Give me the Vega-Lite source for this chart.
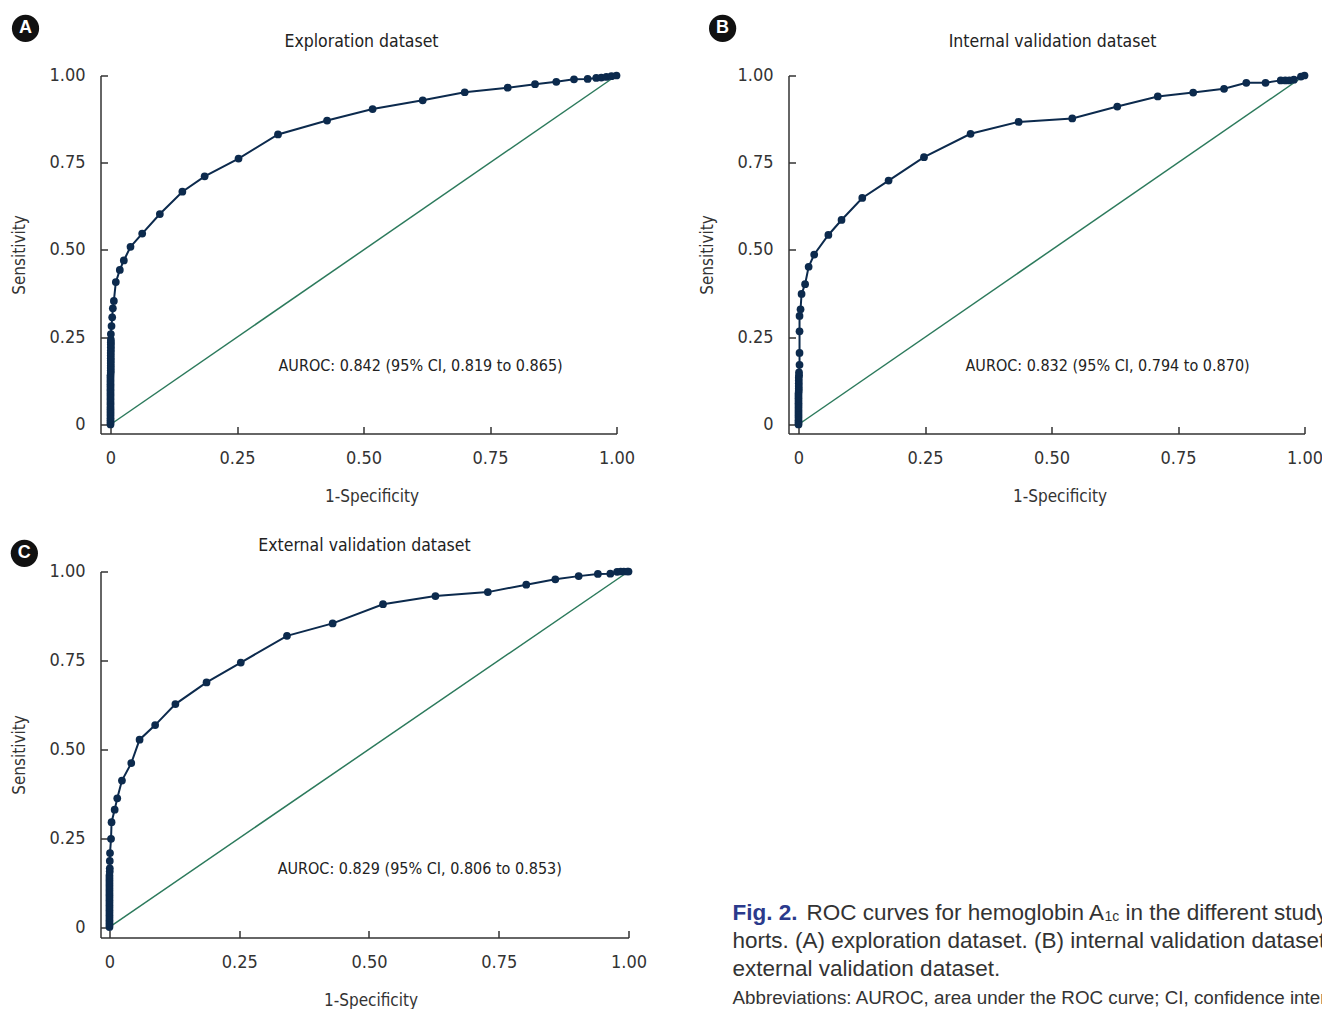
{
  "$schema": "https://vega.github.io/schema/vega-lite/v6.json",
  "padding": {"left": 10.5, "top": 14.5, "right": 0, "bottom": 0},
  "background": "white",
  "config": {
    "view": {"stroke": null},
    "axis": {
      "grid": false,
      "domainColor": "#333333", "domainWidth": 1.5,
      "tickColor": "#333333", "tickWidth": 1.5, "tickSize": -7,
      "labelFont": "DejaVu Sans Condensed, Roboto", "labelFontSize": 18, "labelColor": "#333333",
      "labelFlush": false, "labelOverlap": false, "labelBound": false,
      "titleFont": "DejaVu Sans Condensed, Roboto", "titleFontSize": 17, "titleFontWeight": "normal", "titleColor": "#333333"
    },
    "title": {"font": "DejaVu Sans Condensed, Roboto", "fontSize": 17.5, "fontWeight": "normal", "color": "#222222", "anchor": "middle", "baseline": "bottom", "frame": "group"}
  },
  "datasets": {
    "chance": [{"fpr": 0, "tpr": 0}, {"fpr": 1, "tpr": 1}],
    "notes": [
      {"panel": "A", "fpr": 0.332, "tpr": 0.169, "kind": "auroc", "label": "AUROC: 0.842 (95% CI, 0.819 to 0.865)"},
      {"panel": "A", "fpr": -0.168, "tpr": 1.135, "kind": "badge", "label": "A"},
      {"panel": "B", "fpr": 0.33, "tpr": 0.169, "kind": "auroc", "label": "AUROC: 0.832 (95% CI, 0.794 to 0.870)"},
      {"panel": "B", "fpr": -0.15, "tpr": 1.135, "kind": "badge", "label": "B"},
      {"panel": "C", "fpr": 0.324, "tpr": 0.162, "kind": "auroc", "label": "AUROC: 0.829 (95% CI, 0.806 to 0.853)"},
      {"panel": "C", "fpr": -0.164, "tpr": 1.051, "kind": "badge", "label": "C"}
    ],
    "exploration": [
      {"fpr": 0, "tpr": 0}, {"fpr": 0, "tpr": 0.006}, {"fpr": 0, "tpr": 0.012}, {"fpr": 0, "tpr": 0.018}, {"fpr": 0, "tpr": 0.025},
      {"fpr": 0, "tpr": 0.031}, {"fpr": 0, "tpr": 0.037}, {"fpr": 0, "tpr": 0.044}, {"fpr": 0, "tpr": 0.05}, {"fpr": 0, "tpr": 0.057},
      {"fpr": 0, "tpr": 0.063}, {"fpr": 0, "tpr": 0.07}, {"fpr": 0, "tpr": 0.076}, {"fpr": 0, "tpr": 0.083}, {"fpr": 0, "tpr": 0.089},
      {"fpr": 0, "tpr": 0.096}, {"fpr": 0, "tpr": 0.102}, {"fpr": 0, "tpr": 0.109}, {"fpr": 0, "tpr": 0.115}, {"fpr": 0, "tpr": 0.122},
      {"fpr": 0, "tpr": 0.128}, {"fpr": 0, "tpr": 0.135}, {"fpr": 0, "tpr": 0.141}, {"fpr": 0.0005, "tpr": 0.148}, {"fpr": 0.0005, "tpr": 0.155},
      {"fpr": 0.0005, "tpr": 0.162}, {"fpr": 0.0005, "tpr": 0.169}, {"fpr": 0.0005, "tpr": 0.176}, {"fpr": 0.0005, "tpr": 0.183}, {"fpr": 0.0005, "tpr": 0.19},
      {"fpr": 0.0005, "tpr": 0.198}, {"fpr": 0.0005, "tpr": 0.205}, {"fpr": 0.0007, "tpr": 0.213}, {"fpr": 0.0007, "tpr": 0.221}, {"fpr": 0.0007, "tpr": 0.229},
      {"fpr": 0.0007, "tpr": 0.236}, {"fpr": 0.0007, "tpr": 0.243},
      {"fpr": 0.0007, "tpr": 0.259}, {"fpr": 0.002, "tpr": 0.282}, {"fpr": 0.0033, "tpr": 0.307}, {"fpr": 0.0046, "tpr": 0.333}, {"fpr": 0.0066, "tpr": 0.354},
      {"fpr": 0.0105, "tpr": 0.408}, {"fpr": 0.0184, "tpr": 0.443}, {"fpr": 0.0263, "tpr": 0.47}, {"fpr": 0.0395, "tpr": 0.509}, {"fpr": 0.0626, "tpr": 0.547},
      {"fpr": 0.0975, "tpr": 0.603}, {"fpr": 0.142, "tpr": 0.667}, {"fpr": 0.186, "tpr": 0.711}, {"fpr": 0.253, "tpr": 0.762}, {"fpr": 0.331, "tpr": 0.831},
      {"fpr": 0.428, "tpr": 0.871}, {"fpr": 0.518, "tpr": 0.904}, {"fpr": 0.617, "tpr": 0.929}, {"fpr": 0.7, "tpr": 0.952}, {"fpr": 0.785, "tpr": 0.965},
      {"fpr": 0.839, "tpr": 0.975}, {"fpr": 0.881, "tpr": 0.982}, {"fpr": 0.916, "tpr": 0.989}, {"fpr": 0.943, "tpr": 0.99}, {"fpr": 0.96, "tpr": 0.993},
      {"fpr": 0.97, "tpr": 0.994}, {"fpr": 0.98, "tpr": 0.996}, {"fpr": 0.99, "tpr": 0.998}, {"fpr": 1, "tpr": 1}
    ],
    "internal": [
      {"fpr": 0, "tpr": 0}, {"fpr": 0, "tpr": 0.006}, {"fpr": 0, "tpr": 0.012}, {"fpr": 0, "tpr": 0.019}, {"fpr": 0, "tpr": 0.026},
      {"fpr": 0, "tpr": 0.033}, {"fpr": 0, "tpr": 0.04}, {"fpr": 0, "tpr": 0.047}, {"fpr": 0, "tpr": 0.054}, {"fpr": 0, "tpr": 0.061},
      {"fpr": 0, "tpr": 0.068}, {"fpr": 0, "tpr": 0.075}, {"fpr": 0, "tpr": 0.082}, {"fpr": 0, "tpr": 0.089}, {"fpr": 0.0005, "tpr": 0.096},
      {"fpr": 0.0005, "tpr": 0.103}, {"fpr": 0.0005, "tpr": 0.11}, {"fpr": 0.0005, "tpr": 0.118}, {"fpr": 0.0005, "tpr": 0.126}, {"fpr": 0.0005, "tpr": 0.134},
      {"fpr": 0.001, "tpr": 0.141}, {"fpr": 0.001, "tpr": 0.149}, {"fpr": 0.002, "tpr": 0.171}, {"fpr": 0.002, "tpr": 0.205}, {"fpr": 0.002, "tpr": 0.267},
      {"fpr": 0.002, "tpr": 0.311}, {"fpr": 0.004, "tpr": 0.33}, {"fpr": 0.006, "tpr": 0.374}, {"fpr": 0.013, "tpr": 0.402}, {"fpr": 0.02, "tpr": 0.452},
      {"fpr": 0.031, "tpr": 0.487}, {"fpr": 0.059, "tpr": 0.543}, {"fpr": 0.085, "tpr": 0.586}, {"fpr": 0.126, "tpr": 0.649}, {"fpr": 0.178, "tpr": 0.699},
      {"fpr": 0.248, "tpr": 0.766}, {"fpr": 0.34, "tpr": 0.833}, {"fpr": 0.435, "tpr": 0.867}, {"fpr": 0.541, "tpr": 0.877}, {"fpr": 0.63, "tpr": 0.911},
      {"fpr": 0.71, "tpr": 0.94}, {"fpr": 0.78, "tpr": 0.951}, {"fpr": 0.841, "tpr": 0.962}, {"fpr": 0.885, "tpr": 0.979}, {"fpr": 0.923, "tpr": 0.979},
      {"fpr": 0.953, "tpr": 0.986}, {"fpr": 0.962, "tpr": 0.986}, {"fpr": 0.97, "tpr": 0.986}, {"fpr": 0.979, "tpr": 0.988}, {"fpr": 0.993, "tpr": 0.997},
      {"fpr": 1, "tpr": 1}
    ],
    "external": [
      {"fpr": 0, "tpr": 0}, {"fpr": 0, "tpr": 0.006}, {"fpr": 0, "tpr": 0.012}, {"fpr": 0, "tpr": 0.019}, {"fpr": 0, "tpr": 0.026},
      {"fpr": 0, "tpr": 0.033}, {"fpr": 0, "tpr": 0.04}, {"fpr": 0, "tpr": 0.047}, {"fpr": 0, "tpr": 0.054}, {"fpr": 0, "tpr": 0.061},
      {"fpr": 0, "tpr": 0.068}, {"fpr": 0, "tpr": 0.075}, {"fpr": 0, "tpr": 0.082}, {"fpr": 0, "tpr": 0.089}, {"fpr": 0, "tpr": 0.096},
      {"fpr": 0, "tpr": 0.103}, {"fpr": 0, "tpr": 0.11}, {"fpr": 0, "tpr": 0.117}, {"fpr": 0, "tpr": 0.124}, {"fpr": 0, "tpr": 0.131},
      {"fpr": 0, "tpr": 0.138}, {"fpr": 0, "tpr": 0.145}, {"fpr": 0.0005, "tpr": 0.156}, {"fpr": 0.0006, "tpr": 0.165},
      {"fpr": 0.0006, "tpr": 0.186}, {"fpr": 0.001, "tpr": 0.208}, {"fpr": 0.003, "tpr": 0.248}, {"fpr": 0.004, "tpr": 0.295}, {"fpr": 0.01, "tpr": 0.33},
      {"fpr": 0.015, "tpr": 0.362}, {"fpr": 0.024, "tpr": 0.412}, {"fpr": 0.042, "tpr": 0.461}, {"fpr": 0.058, "tpr": 0.527}, {"fpr": 0.088, "tpr": 0.568},
      {"fpr": 0.127, "tpr": 0.627}, {"fpr": 0.187, "tpr": 0.688}, {"fpr": 0.253, "tpr": 0.744}, {"fpr": 0.342, "tpr": 0.819}, {"fpr": 0.43, "tpr": 0.854},
      {"fpr": 0.527, "tpr": 0.908}, {"fpr": 0.628, "tpr": 0.931}, {"fpr": 0.729, "tpr": 0.942}, {"fpr": 0.803, "tpr": 0.963}, {"fpr": 0.859, "tpr": 0.978},
      {"fpr": 0.904, "tpr": 0.987}, {"fpr": 0.941, "tpr": 0.993}, {"fpr": 0.965, "tpr": 0.994}, {"fpr": 0.978, "tpr": 0.999}, {"fpr": 0.985, "tpr": 1},
      {"fpr": 0.991, "tpr": 1}, {"fpr": 0.998, "tpr": 1}, {"fpr": 1, "tpr": 1}
    ],
    "caption": [
      {"line": 1, "part": "lead", "text": "Fig. 2."},
      {"line": 1, "part": "l1a", "text": "ROC curves for hemoglobin A"},
      {"line": 1, "part": "sub", "text": "1c"},
      {"line": 1, "part": "l1b", "text": "in the different study co-"},
      {"line": 2, "part": "body", "text": "horts. (A) exploration dataset. (B) internal validation dataset. (C)"},
      {"line": 3, "part": "body", "text": "external validation dataset."},
      {"line": 4, "part": "note", "text": "Abbreviations: AUROC, area under the ROC curve; CI, confidence interval."}
    ]
  },
  "vconcat": [
    {
      "spacing": 63,
      "hconcat": [
        {
          "width": 516, "height": 358,
          "title": {"text": "Exploration dataset", "offset": -36, "dx": 3},
          "encoding": {
            "x": {"field": "fpr", "type": "quantitative", "scale": {"domain": [-0.0198, 1], "nice": false, "zero": false},
                  "axis": {"values": [0, 0.25, 0.5, 0.75, 1], "labelExpr": "datum.value === 0 ? '0' : format(datum.value, '.2f')", "labelPadding": 23, "title": "1-Specificity", "titlePadding": 21, "titleX": 271}},
            "y": {"field": "tpr", "type": "quantitative", "scale": {"domain": [-0.0258, 1], "nice": false, "zero": false},
                  "axis": {"values": [0, 0.25, 0.5, 0.75, 1], "labelExpr": "datum.value === 0 ? '0' : format(datum.value, '.2f')", "labelPadding": 22.5, "title": "Sensitivity", "titlePadding": 20}}
          },
          "layer": [
            {"data": {"name": "chance"}, "mark": {"type": "line", "color": "#2c7a5c", "strokeWidth": 1.5}},
            {"data": {"name": "exploration"}, "mark": {"type": "line", "color": "#0c2a4d", "strokeWidth": 2}},
            {"data": {"name": "exploration"}, "mark": {"type": "point", "filled": true, "opacity": 1, "color": "#0c2a4d", "size": 60}},
            {"data": {"name": "notes"}, "transform": [{"filter": "datum.panel === 'A' && datum.kind === 'auroc'"}],
             "mark": {"type": "text", "align": "left", "baseline": "middle", "font": "DejaVu Sans Condensed, Roboto", "fontSize": 16, "color": "#222222"},
             "encoding": {"text": {"field": "label"}}},
            {"data": {"name": "notes"}, "transform": [{"filter": "datum.panel === 'A' && datum.kind === 'badge'"}],
             "mark": {"type": "point", "shape": "circle", "filled": true, "opacity": 1, "color": "#111111", "size": 740}},
            {"data": {"name": "notes"}, "transform": [{"filter": "datum.panel === 'A' && datum.kind === 'badge'"}],
             "mark": {"type": "text", "align": "center", "baseline": "middle", "font": "Liberation Sans", "fontWeight": "bold", "fontSize": 18, "color": "white"},
             "encoding": {"text": {"field": "label"}}}
          ]
        },
        {
          "width": 516, "height": 358,
          "title": {"text": "Internal validation dataset", "offset": -36, "dx": 6},
          "encoding": {
            "x": {"field": "fpr", "type": "quantitative", "scale": {"domain": [-0.0198, 1], "nice": false, "zero": false},
                  "axis": {"values": [0, 0.25, 0.5, 0.75, 1], "labelExpr": "datum.value === 0 ? '0' : format(datum.value, '.2f')", "labelPadding": 23, "title": "1-Specificity", "titlePadding": 21, "titleX": 271}},
            "y": {"field": "tpr", "type": "quantitative", "scale": {"domain": [-0.0258, 1], "nice": false, "zero": false},
                  "axis": {"values": [0, 0.25, 0.5, 0.75, 1], "labelExpr": "datum.value === 0 ? '0' : format(datum.value, '.2f')", "labelPadding": 22.5, "title": "Sensitivity", "titlePadding": 20}}
          },
          "layer": [
            {"data": {"name": "chance"}, "mark": {"type": "line", "color": "#2c7a5c", "strokeWidth": 1.5}},
            {"data": {"name": "internal"}, "mark": {"type": "line", "color": "#0c2a4d", "strokeWidth": 2}},
            {"data": {"name": "internal"}, "mark": {"type": "point", "filled": true, "opacity": 1, "color": "#0c2a4d", "size": 60}},
            {"data": {"name": "notes"}, "transform": [{"filter": "datum.panel === 'B' && datum.kind === 'auroc'"}],
             "mark": {"type": "text", "align": "left", "baseline": "middle", "font": "DejaVu Sans Condensed, Roboto", "fontSize": 16, "color": "#222222"},
             "encoding": {"text": {"field": "label"}}},
            {"data": {"name": "notes"}, "transform": [{"filter": "datum.panel === 'B' && datum.kind === 'badge'"}],
             "mark": {"type": "point", "shape": "circle", "filled": true, "opacity": 1, "color": "#111111", "size": 740}},
            {"data": {"name": "notes"}, "transform": [{"filter": "datum.panel === 'B' && datum.kind === 'badge'"}],
             "mark": {"type": "text", "align": "center", "baseline": "middle", "font": "Liberation Sans", "fontWeight": "bold", "fontSize": 18, "color": "white"},
             "encoding": {"text": {"field": "label"}}}
          ]
        }
      ]
    },
    {
      "spacing": 85,
      "hconcat": [
        {
          "width": 528, "height": 366,
          "title": {"text": "External validation dataset", "offset": -15},
          "encoding": {
            "x": {"field": "fpr", "type": "quantitative", "scale": {"domain": [-0.0173, 1], "nice": false, "zero": false},
                  "axis": {"values": [0, 0.25, 0.5, 0.75, 1], "labelExpr": "datum.value === 0 ? '0' : format(datum.value, '.2f')", "labelPadding": 23, "title": "1-Specificity", "titlePadding": 21, "titleX": 270}},
            "y": {"field": "tpr", "type": "quantitative", "scale": {"domain": [-0.0295, 1], "nice": false, "zero": false},
                  "axis": {"values": [0, 0.25, 0.5, 0.75, 1], "labelExpr": "datum.value === 0 ? '0' : format(datum.value, '.2f')", "labelPadding": 22.5, "title": "Sensitivity", "titlePadding": 20}}
          },
          "layer": [
            {"data": {"name": "chance"}, "mark": {"type": "line", "color": "#2c7a5c", "strokeWidth": 1.5}},
            {"data": {"name": "external"}, "mark": {"type": "line", "color": "#0c2a4d", "strokeWidth": 2}},
            {"data": {"name": "external"}, "mark": {"type": "point", "filled": true, "opacity": 1, "color": "#0c2a4d", "size": 60}},
            {"data": {"name": "notes"}, "transform": [{"filter": "datum.panel === 'C' && datum.kind === 'auroc'"}],
             "mark": {"type": "text", "align": "left", "baseline": "middle", "font": "DejaVu Sans Condensed, Roboto", "fontSize": 16, "color": "#222222"},
             "encoding": {"text": {"field": "label"}}},
            {"data": {"name": "notes"}, "transform": [{"filter": "datum.panel === 'C' && datum.kind === 'badge'"}],
             "mark": {"type": "point", "shape": "circle", "filled": true, "opacity": 1, "color": "#111111", "size": 740}},
            {"data": {"name": "notes"}, "transform": [{"filter": "datum.panel === 'C' && datum.kind === 'badge'"}],
             "mark": {"type": "text", "align": "center", "baseline": "middle", "font": "Liberation Sans", "fontWeight": "bold", "fontSize": 18, "color": "white"},
             "encoding": {"text": {"field": "label"}}}
          ]
        },
        {
          "width": 560, "height": 366,
          "data": {"name": "caption"},
          "encoding": {
            "x": {"datum": 0, "type": "quantitative", "scale": {"domain": [0, 1], "nice": false}, "axis": null},
            "y": {"field": "line", "type": "quantitative", "scale": {"domain": [-11.05, 1.88], "reverse": true, "nice": false, "zero": false}, "axis": null},
            "text": {"field": "text"}
          },
          "layer": [
            {"transform": [{"filter": "datum.part === 'lead'"}],
             "mark": {"type": "text", "align": "left", "baseline": "middle", "font": "Liberation Sans", "fontSize": 22.5, "fontWeight": "bold", "color": "#2b3a8c"}},
            {"transform": [{"filter": "datum.part === 'l1a'"}],
             "mark": {"type": "text", "align": "left", "baseline": "middle", "font": "Liberation Sans", "fontSize": 22.5, "color": "#333333", "dx": 74}},
            {"transform": [{"filter": "datum.part === 'sub'"}],
             "mark": {"type": "text", "align": "left", "baseline": "middle", "font": "Liberation Sans", "fontSize": 14, "color": "#333333", "dx": 372, "dy": 4}},
            {"transform": [{"filter": "datum.part === 'l1b'"}],
             "mark": {"type": "text", "align": "left", "baseline": "middle", "font": "Liberation Sans", "fontSize": 22.5, "color": "#333333", "dx": 393}},
            {"transform": [{"filter": "datum.part === 'body'"}],
             "mark": {"type": "text", "align": "left", "baseline": "middle", "font": "Liberation Sans", "fontSize": 22.5, "color": "#333333"}},
            {"transform": [{"filter": "datum.part === 'note'"}],
             "mark": {"type": "text", "align": "left", "baseline": "middle", "font": "Liberation Sans", "fontSize": 18.8, "color": "#333333"}}
          ]
        }
      ]
    }
  ],
  "spacing": 32
}
